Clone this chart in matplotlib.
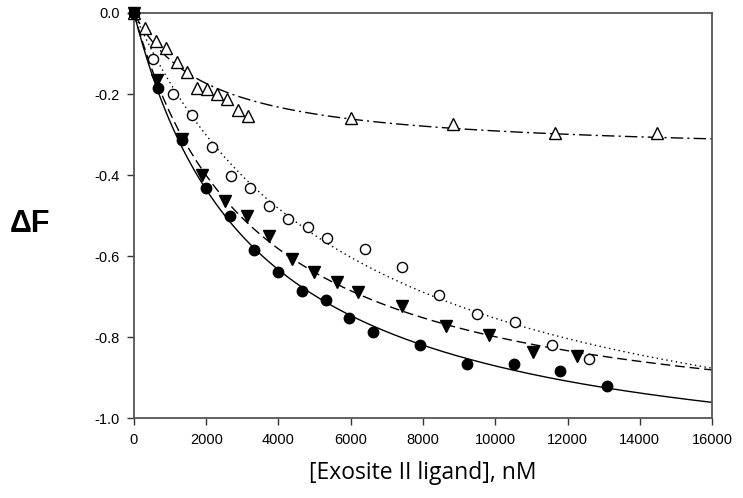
import numpy as np
import matplotlib
matplotlib.use('Agg')
import matplotlib.pyplot as plt

plt.rcParams['font.family'] = ['Liberation Sans', 'DejaVu Sans']

# filled circles (solid fit)
x_fc = [0, 673, 1320, 1993, 2657, 3331, 3995, 4642, 5306, 5952, 6607, 7917, 9218, 10519, 11793, 13085]
y_fc = [0, -0.186, -0.314, -0.433, -0.501, -0.585, -0.640, -0.686, -0.709, -0.752, -0.788, -0.820, -0.866, -0.867, -0.883, -0.922]

# filled down triangles (dashed fit)
x_ft = [0, 646, 1320, 1873, 2519, 3119, 3746, 4365, 4983, 5611, 6210, 7428, 8637, 9836, 11054, 12254]
y_ft = [0, -0.165, -0.310, -0.400, -0.463, -0.501, -0.550, -0.608, -0.640, -0.663, -0.690, -0.723, -0.774, -0.795, -0.838, -0.846]

# open circles (dotted fit)
x_oc = [0, 535, 1070, 1596, 2150, 2685, 3211, 3746, 4272, 4808, 5334, 6385, 7428, 8447, 9504, 10547, 11571, 12595]
y_oc = [0, -0.114, -0.201, -0.253, -0.330, -0.402, -0.431, -0.476, -0.509, -0.528, -0.556, -0.583, -0.626, -0.696, -0.742, -0.763, -0.820, -0.854]

# open triangles (dash-dot fit)
x_ot = [0, 304, 609, 886, 1181, 1458, 1735, 2030, 2307, 2583, 2870, 3165, 5999, 8821, 11663, 14486]
y_ot = [0, -0.036, -0.068, -0.087, -0.120, -0.145, -0.184, -0.188, -0.200, -0.213, -0.240, -0.254, -0.260, -0.274, -0.297, -0.296]

# hyperbolic fit parameters (Fmax, Kd in nM)
fit_fc = (1.161, 3324)
fit_ft = (1.063, 3300)
fit_oc = (1.205, 5986)
fit_ot = (0.350, 2022)

def binding(x, p):
    return -p[0]*x/(p[1]+x)

xs = np.linspace(0, 16000, 400)

fig = plt.figure(figsize=(7.43, 4.98), dpi=100)
ax = fig.add_axes([0.1803, 0.1606, 0.778, 0.8133])

ax.plot(xs, binding(xs, fit_fc), color='black', lw=1.0, ls='-')
ax.plot(xs, binding(xs, fit_ft), color='black', lw=1.0, ls=(0, (7, 3.5)))
ax.plot(xs, binding(xs, fit_oc), color='black', lw=1.0, ls=(0, (1, 2.5)))
ax.plot(xs, binding(xs, fit_ot), color='black', lw=1.0, ls=(0, (9, 3, 1.5, 3)))

ax.plot(x_ot, y_ot, ls='none', marker='^', ms=8, mfc='white', mec='black', mew=1.0, clip_on=False, zorder=3)
ax.plot(x_oc, y_oc, ls='none', marker='o', ms=7.3, mfc='white', mec='black', mew=1.0, clip_on=False, zorder=3)
ax.plot(x_ft, y_ft, ls='none', marker='v', ms=8.5, mfc='black', mec='black', clip_on=False, zorder=4)
ax.plot(x_fc, y_fc, ls='none', marker='o', ms=7.5, mfc='black', mec='black', clip_on=False, zorder=4)

ax.set_xlim(0, 16000)
ax.set_ylim(-1.0, 0.0)
ax.set_xticks(np.arange(0, 16001, 2000))
ax.set_yticks(np.arange(-1.0, 0.01, 0.2))
ax.set_yticklabels(['-1.0', '-0.8', '-0.6', '-0.4', '-0.2', '0.0'])
ax.tick_params(direction='out', length=5, width=1.0, labelsize=10.5, colors='#333333', labelcolor='black',
               top=False, right=False)
ax.tick_params(axis='x', pad=6)
ax.tick_params(axis='y', pad=5)
for s in ax.spines.values():
    s.set_color('#555555')
    s.set_linewidth(1.3)

ax.set_xlabel('[Exosite II ligand], nM', fontsize=16.5, family=['Open Sans', 'DejaVu Sans'], labelpad=10)
fig.text(0.013, 0.55, '\u0394F', fontsize=22, fontweight='bold', family=['Liberation Sans', 'DejaVu Sans'],
         ha='left', va='center')

fig.savefig('out.png', dpi=100)
